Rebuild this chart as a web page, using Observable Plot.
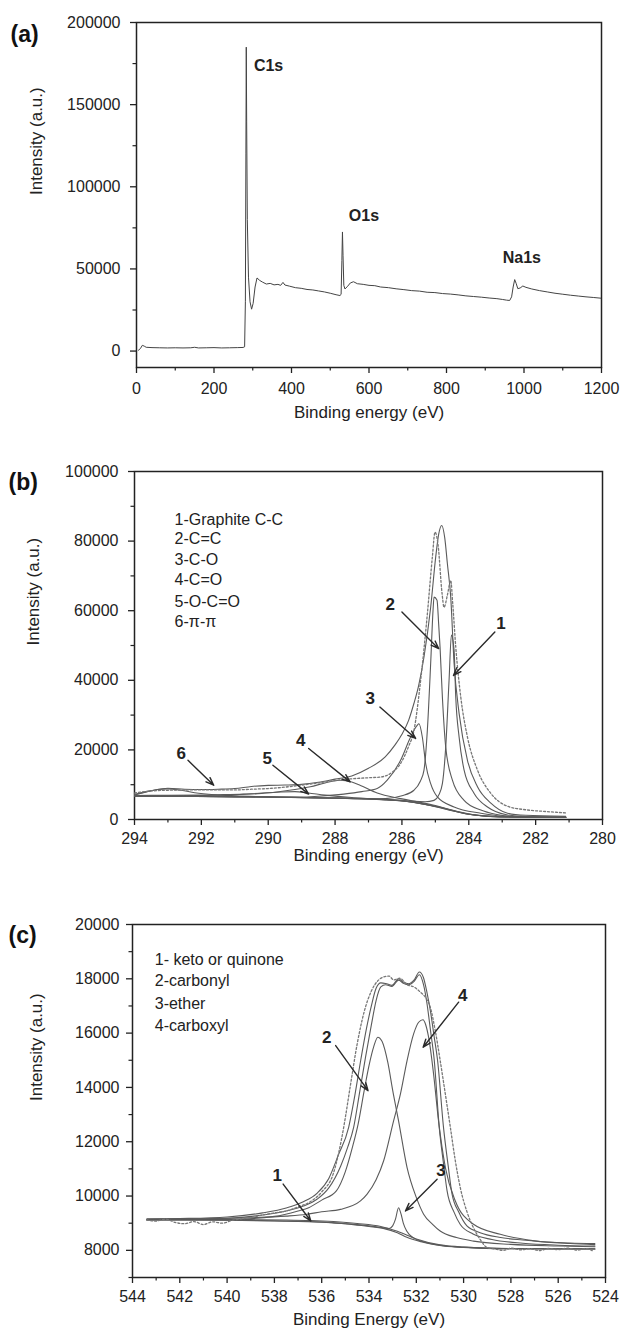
<!DOCTYPE html>
<html><head><meta charset="utf-8">
<script src="https://cdn.jsdelivr.net/npm/d3@7"></script>
<script src="https://cdn.jsdelivr.net/npm/@observablehq/plot@0.6"></script>
<style>
body{margin:0;background:#fff;}
#chart svg{display:block;}
</style>
</head><body><div id="chart"></div>
<script>
// ---------------- Panel (a): survey spectrum ----------------
const surveyA = [[5,500],[10,1500],[15,3500],[20,3000],[25,2300],[40,2100],[60,2000],[80,1900],[100,2000],[120,1900],[140,2000],[150,2300],[160,1900],[180,2000],[200,2100],[220,1900],[240,2000],[260,2100],[275,2200],[279,2600],[281,30000],[282.3,120000],[283.3,185000],[284.3,140000],[286,80000],[289,45000],[293,30000],[297,25500],[301,29000],[306,39000],[311,44500],[318,43000],[325,42000],[335,40800],[345,41200],[355,40300],[365,40600],[372,40000],[378,41800],[383,40200],[395,39500],[410,38600],[425,38200],[440,37500],[455,37200],[470,36600],[485,36000],[500,35200],[515,34300],[525,33800],[528,34500],[530,55000],[531.5,72500],[533,58000],[535,40000],[538,37800],[545,39500],[552,41500],[560,42200],[570,41000],[585,40600],[600,40000],[615,39800],[630,39000],[650,38600],[670,37900],[690,37400],[710,36800],[730,36500],[750,35800],[770,35600],[790,35000],[810,34700],[830,34200],[850,33600],[870,33200],[890,32800],[910,32300],[930,31900],[945,31400],[955,31000],[963,30800],[968,33000],[972,39000],[976,43500],[980,41000],[984,38000],[990,38400],[997,39600],[1005,38800],[1020,37800],[1040,36800],[1060,36000],[1080,35200],[1100,34600],[1120,34000],[1140,33500],[1160,33000],[1180,32600],[1198,32200]];
const peakNamesA = ["C1s","O1s","Na1s"];
const peakLabelXA = [303,548,945];
const peakLabelYA = [173600,82200,56700];
const xTicksA = [0,200,400,600,800,1000,1200];
const xMinorA = [100,300,500,700,900,1100];
const yTicksA = [0,50000,100000,150000,200000];
const yMinorA = [25000,75000,125000,175000];

// ---------------- Panel (b): C1s high resolution ----------------
const baseB = [[294,6700],[293,6650],[292,6600],[291,6500],[290,6400],[289,6250],[288,6100],[287,5900],[286.5,5650],[286,5300],[285.5,4700],[285,3700],[284.5,2500],[284,1500],[283.5,950],[283,750],[282,620],[281.1,600]];
const comp1B = [[294,6750],[290,6450],[287,6000],[286,5500],[285.64,5200],[285.3,5100],[285.04,5500],[284.9,7000],[284.79,10300],[284.69,20800],[284.59,40000],[284.52,53000],[284.44,48600],[284.39,35200],[284.29,23700],[284.14,14200],[283.84,7500],[283.44,3600],[283.2,2300],[282.84,1300],[282.3,800],[281.1,650]];
const comp2B = [[294,6750],[290,6450],[288,6150],[287,5950],[286.5,6000],[286,6800],[285.64,8400],[285.45,11000],[285.34,14200],[285.24,25600],[285.14,44900],[285.07,60000],[285.04,63900],[284.95,63000],[284.9,56000],[284.86,49600],[284.79,35200],[284.69,20800],[284.49,11300],[284.14,5500],[283.64,2700],[283.2,1500],[282.8,950],[282,700],[281.1,650]];
const comp3B = [[294,6700],[290,6500],[289,6450],[288.5,6700],[287.74,7300],[287.2,8000],[286.74,8900],[286.44,11300],[286.04,17000],[285.74,23700],[285.55,27000],[285.49,27500],[285.39,23700],[285.29,16100],[285.14,10300],[284.94,6500],[284.44,3600],[283.64,1800],[283,1000],[282,700],[281.1,650]];
const comp4B = [[294,6900],[293,6950],[292,7000],[291.5,7100],[290.74,7300],[289.74,7900],[289.2,8600],[288.74,9400],[288.3,10500],[287.85,11300],[287.5,10800],[287.24,9800],[286.74,7600],[286.04,6000],[285.5,5000],[285,4000],[284.5,2700],[284,1600],[283.5,1000],[283,800],[282,650],[281.1,620]];
const comp5B = [[294,6800],[292,6900],[291,7100],[290.2,7500],[289.6,7900],[289.2,8000],[288.8,7600],[288.3,7000],[287.5,6300],[287,6000],[286,5400],[285,3800],[284,1550],[283,780],[281.1,610]];
const comp6B = [[294,7000],[293.7,7800],[293.3,8600],[293,8800],[292.6,8400],[292.2,7700],[291.6,7100],[291,6800],[290,6500],[288,6150],[286,5350],[285,3750],[284,1500],[283,760],[281.1,600]];
const envelopeB = [[294,7200],[293.5,8300],[293,9000],[292.5,8700],[292,8600],[291.5,8700],[291,8900],[290.5,9500],[290,9800],[289.5,9900],[289,10100],[288.5,10700],[288,11600],[287.5,12500],[287,14700],[286.5,18000],[286.2,21500],[286,24500],[285.8,28500],[285.64,33400],[285.5,38500],[285.34,46700],[285.14,61000],[284.99,75400],[284.9,82000],[284.81,84500],[284.72,81000],[284.64,73500],[284.54,63900],[284.44,44900],[284.29,30500],[284.04,17000],[283.74,9400],[283.34,4700],[282.84,1800],[282.3,1200],[281.1,900]];
const measuredB = [[294,7600],[293.5,8200],[293,8400],[292,8500],[291,8500],[290.5,8700],[290,8900],[289.5,9300],[289,9900],[288.5,10500],[288,11200],[287.5,11700],[287,12000],[286.64,12200],[286.3,13500],[286.04,16100],[285.8,21000],[285.64,25600],[285.44,40000],[285.24,59000],[285.09,75400],[285.01,82600],[284.92,79000],[284.8,65000],[284.74,61000],[284.64,64500],[284.54,68700],[284.48,62000],[284.39,49600],[284.24,35200],[284.04,23700],[283.74,14200],[283.34,7500],[282.84,3800],[282.3,2800],[281.7,2300],[281.1,1900]];
const legendB = ["1-Graphite C-C","2-C=C","3-C-O","4-C=O","5-O-C=O","6-π-π"];
const legendYB = [86200,80500,74700,69000,62400,56700];
const legendXB = 292.8;
const arrowLabelsB = ["2","1","3","4","5","6"];
const arrowLabelPosB = [[286.35,61800],[283.04,56300],[286.95,34700],[289.03,22800],[290.03,17500],[292.6,18900]];
const arrowFromB = [[286.0,59600],[283.22,53900],[286.66,32300],[288.79,20400],[289.86,15600],[292.4,17000]];
const arrowToB = [[284.9,49100],[284.46,41400],[285.59,23300],[287.55,10800],[288.79,7300],[291.63,9850]];
const xTicksB = [294,292,290,288,286,284,282,280];
const xMinorB = [293,291,289,287,285,283,281];
const yTicksB = [0,20000,40000,60000,80000,100000];
const yMinorB = [10000,30000,50000,70000,90000];

// ---------------- Panel (c): O1s high resolution ----------------
const baseC = [[543.39,9130],[541,9120],[539,9100],[537.5,9080],[536.5,9060],[535.5,9010],[535,8980],[534.5,8930],[534,8880],[533.4,8810],[532.8,8650],[532.4,8480],[531.8,8320],[531.27,8220],[530.5,8140],[529.58,8100],[528,8060],[526,8050],[524.45,8050]];
const comp1C = [[543.39,9150],[541,9140],[539,9130],[537.5,9120],[536.46,9100],[535.5,9060],[534.5,8990],[533.5,8880],[532.8,8700],[532,8420],[531,8200],[530,8120],[528,8070],[524.45,8060]];
const comp2C = [[543.39,9120],[540,9130],[538,9250],[537,9450],[536.55,9570],[536,9850],[535.38,10190],[535,10900],[534.7,11800],[534.46,12650],[534.2,13900],[534,14800],[533.8,15500],[533.63,15850],[533.45,15700],[533.2,14900],[533,13900],[532.75,12770],[532.39,11050],[532,9950],[531.69,9330],[531.3,8950],[530.99,8710],[530.3,8470],[529.58,8340],[528,8220],[526,8160],[524.45,8130]];
const comp3C = [[543.39,9130],[540,9110],[538,9080],[536,9040],[535,8980],[534,8900],[533.4,8830],[533.15,8800],[533.0,8900],[532.88,9150],[532.75,9570],[532.65,9350],[532.55,9000],[532.4,8700],[532.1,8450],[531.7,8320],[531,8180],[530,8110],[528,8060],[524.45,8050]];
const comp4C = [[543.39,9140],[541,9160],[539,9200],[537.5,9260],[536.61,9330],[536,9420],[535.21,9510],[534.36,9820],[534.08,10070],[533.7,10600],[533.38,11300],[532.96,12770],[532.67,13760],[532.39,14990],[532.11,15980],[531.9,16400],[531.72,16490],[531.6,16300],[531.48,15850],[531.27,14500],[531.06,12770],[530.77,11050],[530.35,9820],[529.58,8960],[528.45,8590],[527,8350],[525.5,8250],[524.45,8210]];
const innerC = [[543.39,9130],[542,9140],[540,9180],[538.5,9300],[537.5,9450],[536.8,9620],[536.2,9880],[535.7,10300],[535.2,11100],[534.9,11800],[534.65,12530],[534.4,13800],[534.15,15100],[533.9,16300],[533.7,17200],[533.5,17700],[533.3,17780],[533.03,17720],[532.75,17950],[532.55,17840],[532.32,17780],[532.1,17900],[531.87,18150],[531.7,17800],[531.55,17100],[531.4,16100],[531.24,14990],[531.03,12530],[530.85,11200],[530.7,10200],[530.4,9400],[530.14,8950],[529.6,8600],[528.8,8400],[527.5,8260],[526,8190],[524.45,8160]];
const envelopeC = [[543.39,9150],[542,9170],[540,9230],[538.5,9380],[537.5,9560],[536.8,9780],[536.2,10100],[535.7,10650],[535.3,11500],[534.86,12530],[534.6,13700],[534.35,15000],[534.1,16200],[533.9,17000],[533.7,17650],[533.5,17850],[533.3,17830],[533.03,17760],[532.75,18000],[532.55,17880],[532.32,17820],[532.1,17950],[531.87,18250],[531.7,18050],[531.55,17500],[531.4,16800],[531.25,15900],[531.1,14990],[530.85,12530],[530.65,11100],[530.49,10080],[530.2,9400],[529.86,8900],[529.3,8650],[528.5,8480],[527.5,8380],[526.5,8310],[525.5,8270],[524.45,8250]];
const measuredC = [[543.4,9120],[543,9080],[542.6,9150],[542.2,9030],[541.8,8980],[541.4,9060],[541,8950],[540.6,9050],[540.2,9000],[539.8,9100],[539.4,9160],[539,9200],[538.5,9300],[538,9380],[537.5,9450],[537,9600],[536.5,9780],[536,10150],[535.5,10850],[535.07,12530],[534.8,14000],[534.5,15600],[534.2,16800],[533.9,17550],[533.6,17950],[533.38,18070],[533.15,18100],[532.96,17960],[532.7,18020],[532.39,17780],[532.1,17700],[531.83,17510],[531.6,17300],[531.41,16960],[531.2,16100],[530.99,14990],[530.78,13800],[530.56,12530],[530.35,11300],[530.14,10310],[529.85,9400],[529.58,8830],[529.3,8400],[529.0,8100],[528.7,8050],[528.3,8000],[528,8080],[527.6,8020],[527.2,8060],[526.8,7990],[526.4,8070],[526,8030],[525.6,8080],[525.2,8010],[524.8,8060],[524.5,7960]];
const legendC = ["1- keto or quinone","2-carbonyl","3-ether","4-carboxyl"];
const legendYC = [18680,17920,17080,16280];
const legendXC = 543.06;
const arrowLabelsC = ["2","4","1","3"];
const arrowLabelPosC = [[535.79,15850],[530.04,17390],[537.88,10740],[530.96,10930]];
const arrowFromC = [[535.41,15540],[530.21,17140],[537.63,10440],[531.12,10620]];
const arrowToC = [[534.04,13880],[531.71,15480],[536.46,9080],[532.46,9450]];
const xTicksC = [544,542,540,538,536,534,532,530,528,526,524];
const xMinorC = [543,541,539,537,535,533,531,529,527,525];
const yTicksC = [8000,10000,12000,14000,16000,18000,20000];
const yMinorC = [7000,9000,11000,13000,15000,17000,19000];

// ---------------- drawing ----------------
const FONT = "'Liberation Sans', Arial, Helvetica, sans-serif";
const INK = "#222";
const LINE = "#5a5a5a";
const px = d => d[0], py = d => d[1];

function axes(xT, xM, yT, yM, xPad, yPad) {
  return [
    Plot.axisX({ticks: xT, tickSize: 6, tickPadding: xPad, tickFormat: d => String(d), label: null, stroke: INK, strokeWidth: 1.3, fontSize: 16, fill: INK}),
    Plot.axisX({ticks: xM, tickSize: 3.5, tickFormat: () => "", label: null, stroke: INK, strokeWidth: 1.2}),
    Plot.axisY({ticks: yT, tickSize: 6, tickPadding: yPad, tickFormat: d => String(d), label: null, stroke: INK, strokeWidth: 1.3, fontSize: 16, fill: INK}),
    Plot.axisY({ticks: yM, tickSize: 3.5, tickFormat: () => "", label: null, stroke: INK, strokeWidth: 1.2}),
    Plot.frame({stroke: INK, strokeWidth: 1.5})
  ];
}
function titles(tag, xLabel, tagDx, tagDy, yDx, xDy) {
  return [
    Plot.text([tag], {frameAnchor: "top-left", text: d => d, dx: tagDx, dy: tagDy, textAnchor: "start", fontSize: 23, fontWeight: "bold", fill: "#111"}),
    Plot.text(["Intensity (a.u.)"], {frameAnchor: "left", text: d => d, dx: yDx, rotate: -90, fontSize: 17, fill: INK}),
    Plot.text([xLabel], {frameAnchor: "bottom", text: d => d, dy: xDy, fontSize: 17, fill: INK})
  ];
}
function arrowMarks(from, to, labels, pos) {
  const arr = from.map((f, i) => ({x1: f[0], y1: f[1], x2: to[i][0], y2: to[i][1]}));
  return [
    Plot.arrow(arr, {x1: "x1", y1: "y1", x2: "x2", y2: "y2", stroke: "#2a2a2a", strokeWidth: 1.4, headLength: 9, headAngle: 40, bend: 0}),
    Plot.text(labels, {x: (d, i) => pos[i][0], y: (d, i) => pos[i][1], text: d => d, fontSize: 17, fontWeight: "bold", fill: "#222"})
  ];
}
const style = {fontFamily: FONT, fontSize: "16px", color: INK, background: "white", overflow: "visible"};

const plotA = Plot.plot({
  width: 620, height: 440, marginLeft: 136, marginRight: 19, marginTop: 22, marginBottom: 73,
  style,
  x: {domain: [0, 1200]},
  y: {domain: [-10000, 200000]},
  marks: [
    ...axes(xTicksA, xMinorA, yTicksA, yMinorA, 9, 10),
    Plot.line(surveyA, {x: px, y: py, stroke: "#444", strokeWidth: 1}),
    Plot.text(peakNamesA, {x: (d, i) => peakLabelXA[i], y: (d, i) => peakLabelYA[i], text: d => d, textAnchor: "start", fontSize: 16, fontWeight: "bold", fill: "#222"}),
    ...titles("(a)", "Binding energy (eV)", -126, 3, -100, 50)
  ]
});

const plotB = Plot.plot({
  width: 620, height: 450, marginLeft: 134, marginRight: 18, marginTop: 31, marginBottom: 71,
  style,
  x: {domain: [294, 280]},
  y: {domain: [0, 100000]},
  marks: [
    ...axes(xTicksB, xMinorB, yTicksB, yMinorB, 7, 10),
    ...[baseB, comp6B, comp5B, comp4B, comp3B, comp2B, comp1B, envelopeB].map(s =>
      Plot.line(s, {x: px, y: py, stroke: LINE, strokeWidth: 1.1, curve: "monotone-x"})),
    Plot.line(measuredB, {x: px, y: py, stroke: "#777", strokeWidth: 1.3, strokeDasharray: "2,2", curve: "monotone-x"}),
    Plot.text(legendB, {x: legendXB, y: (d, i) => legendYB[i], text: d => d, textAnchor: "start", fontSize: 16, fill: "#222"}),
    ...arrowMarks(arrowFromB, arrowToB, arrowLabelsB, arrowLabelPosB),
    ...titles("(b)", "Binding energy (eV)", -126, 2, -101, 41)
  ]
});

const plotC = Plot.plot({
  width: 620, height: 446, marginLeft: 132, marginRight: 15, marginTop: 34, marginBottom: 59,
  style,
  x: {domain: [544, 524]},
  y: {domain: [7000, 20000]},
  marks: [
    ...axes(xTicksC, xMinorC, yTicksC, yMinorC, 7, 7),
    ...[baseC, comp1C, comp3C, comp2C, comp4C, innerC, envelopeC].map(s =>
      Plot.line(s, {x: px, y: py, stroke: LINE, strokeWidth: 1.1, curve: "monotone-x"})),
    Plot.line(measuredC, {x: px, y: py, stroke: "#777", strokeWidth: 1.3, strokeDasharray: "2,2", curve: "monotone-x"}),
    Plot.text(legendC, {x: legendXC, y: (d, i) => legendYC[i], text: d => d, textAnchor: "start", fontSize: 16, fill: "#222"}),
    ...arrowMarks(arrowFromC, arrowToC, arrowLabelsC, arrowLabelPosC),
    ...titles("(c)", "Binding Energy (eV)", -124, 2, -96, 47)
  ]
});

const root = document.getElementById("chart");
root.append(plotA, plotB, plotC);
</script>
</body></html>
